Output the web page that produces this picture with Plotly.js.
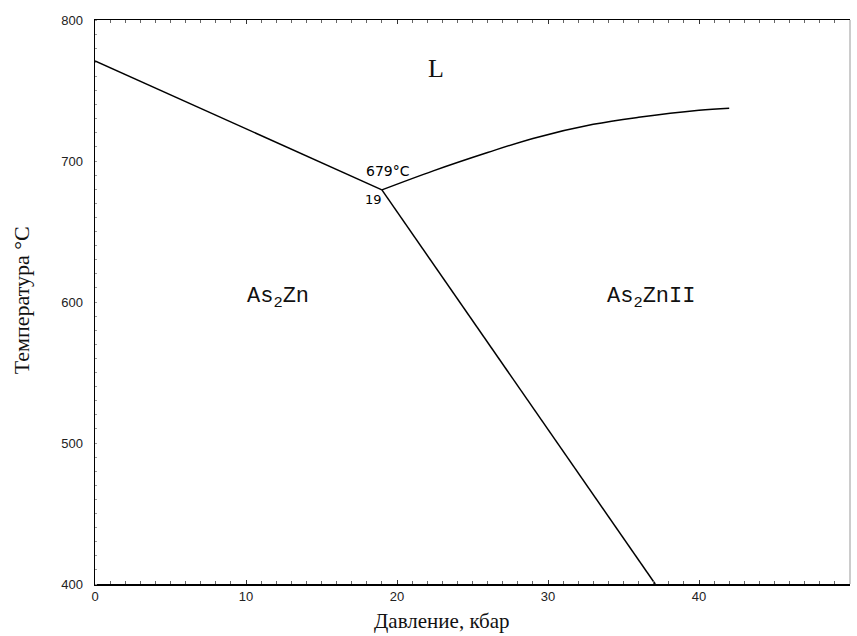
<!DOCTYPE html>
<html>
<head>
<meta charset="utf-8">
<script src="https://cdn.plot.ly/plotly-3.0.1.min.js"></script>
<style>html,body{margin:0;padding:0;background:#fff;}</style>
</head>
<body>
<div id="chart" style="width:857px;height:636px;"></div>
<script>
// Phase boundary: As2Zn / L (left liquidus)
const leftP = [0, 19];
const leftT = [771, 679.5];
// Phase boundary: As2ZnII / L (upper curve)
const upperP = [19, 22.4, 26, 29, 33, 36, 40, 42];
const upperT = [679.5, 693, 706, 716, 726, 731, 736, 737.5];
// Phase boundary: As2Zn / As2ZnII (solid-solid)
const lowerP = [19, 37.1];
const lowerT = [679.5, 400];

// Region labels
const labelText = ['L', 'As<sub>2</sub>Zn', 'As<sub>2</sub>ZnII'];
const labelP = [22.6, 12.1, 36.8];
const labelT = [765.5, 603, 603];

// Triple point labels
const tripleText = ['679°C', '19'];
const tripleP = [19.4, 18.45];
const tripleT = [693, 672.5];

const xTicks = [0, 10, 20, 30, 40, 50];
const yTicks = [400, 500, 600, 700, 800];

const lineStyle = {color: '#000', width: 1.5};
const traces = [
  {x: leftP, y: leftT, mode: 'lines', line: lineStyle, hoverinfo: 'skip'},
  {x: upperP, y: upperT, mode: 'lines', line: Object.assign({shape: 'spline'}, lineStyle), hoverinfo: 'skip'},
  {x: lowerP, y: lowerT, mode: 'lines', line: lineStyle, hoverinfo: 'skip'}
];

const annotations = [];
labelText.forEach((t, i) => {
  annotations.push({
    x: labelP[i], y: labelT[i], xref: 'x', yref: 'y', text: t, showarrow: false,
    font: i === 0 ? {family: 'Liberation Serif, serif', size: 26, color: '#111'}
                  : {family: 'Liberation Mono, monospace', size: 22, color: '#111'}
  });
});
tripleText.forEach((t, i) => {
  annotations.push({
    x: tripleP[i], y: tripleT[i], xref: 'x', yref: 'y', text: t, showarrow: false,
    font: {family: 'DejaVu Sans, sans-serif', size: i === 0 ? 14 : 13, color: '#000'}
  });
});
// Axis titles
annotations.push({
  x: 0.46, y: 0, xref: 'paper', yref: 'paper', yshift: -51, yanchor: 'bottom', showarrow: false,
  text: 'Давление, кбар', font: {family: 'Liberation Serif, serif', size: 21, color: '#111'}
});
annotations.push({
  x: 0, y: 0.503, xref: 'paper', yref: 'paper', xshift: -74, xanchor: 'center', showarrow: false,
  textangle: -90, text: 'Температура °C', font: {family: 'Liberation Serif, serif', size: 22, color: '#111'}
});

const layout = {
  width: 857, height: 636,
  margin: {l: 95, r: 7, t: 20, b: 52},
  paper_bgcolor: '#fff', plot_bgcolor: '#fff',
  showlegend: false,
  xaxis: {
    range: [0, 50], tickvals: xTicks, ticktext: xTicks.map(String),
    showgrid: false, zeroline: false, showline: true, linecolor: '#000', linewidth: 1.5,
    mirror: 'ticks', ticks: 'inside', ticklen: 4, tickcolor: '#333',
    minor: {dtick: 1, ticks: 'inside', ticklen: 3, tickcolor: '#666'},
    tickfont: {family: 'Liberation Sans, Arial, sans-serif', size: 13, color: '#222'}
  },
  yaxis: {
    range: [400, 800], tickvals: yTicks, ticktext: yTicks.map(String),
    showgrid: false, zeroline: false, showline: true, linecolor: '#000', linewidth: 1.5,
    ticks: '', ticklabelstandoff: 8,
    minor: {dtick: 10, ticks: 'inside', ticklen: 2, tickcolor: '#999'},
    tickfont: {family: 'Liberation Sans, Arial, sans-serif', size: 13, color: '#222'}
  },
  shapes: [
    {type: 'line', xref: 'paper', yref: 'paper', x0: 1, x1: 1, y0: 0, y1: 1,
     line: {color: '#999', width: 1}}
  ],
  annotations: annotations
};

Plotly.newPlot('chart', traces, layout, {displayModeBar: false, staticPlot: true});
</script>
</body>
</html>
